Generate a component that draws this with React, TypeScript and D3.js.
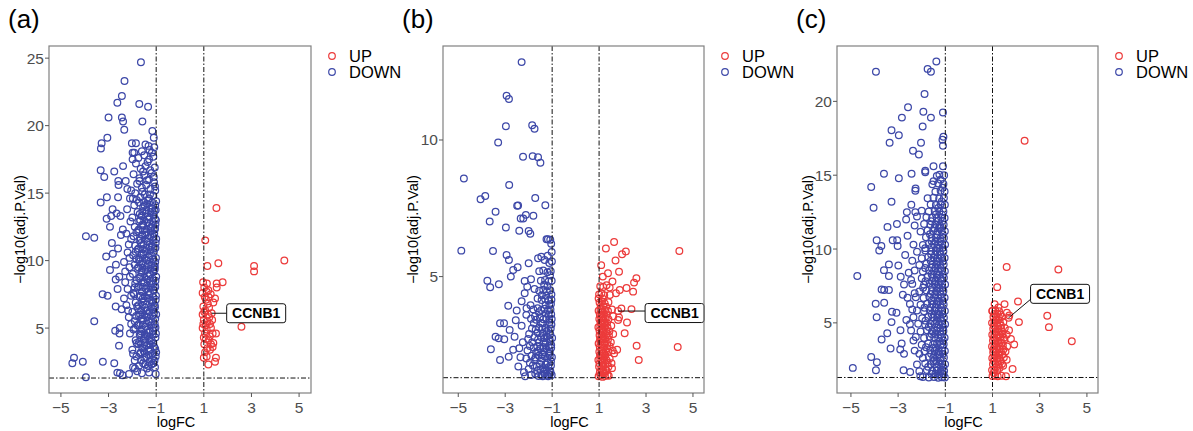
import * as d3 from "d3";

// logFC / -log10(adj.P.Val) pairs
const downA: [number, number][] = [
  [-1.64,24.7],[-2.33,23.3],[-2.44,22.2],[-2.63,21.7],[-1.71,21.6],[-1.34,21.4],[-3.0,20.6],[-2.44,20.6],
  [-2.39,20.3],[-1.58,20.3],[-2.34,19.7],[-1.16,19.6],[-1.1,19.1],[-3.05,19.1],[-3.29,18.7],[-3.32,18.3],[-2.02,18.7],
  [-1.85,18.7],[-1.99,18.0],[-1.92,18.0],[-1.32,18.5],[-2.39,17.0],[-3.33,16.7],[-2.76,16.6],[-3.18,16.2],
  [-2.59,15.9],[-2.58,15.6],[-2.21,15.3],[-2.6,14.7],[-3.07,14.7],[-3.33,14.3],[-2.83,13.8],[-2.66,13.5],
  [-3.08,13.1],[-2.89,13.3],[-2.94,12.5],[-3.95,11.8],[-3.6,11.7],[-2.86,11.3],[-3.1,10.3],[-2.82,10.5],
  [-2.69,9.7],[-2.94,9.3],[-3.25,7.5],[-3.04,7.4],[-3.6,5.5],[-2.53,5.0],[-2.54,4.6],[-2.56,3.7],
  [-4.45,2.8],[-4.52,2.4],[-4.08,2.5],[-3.24,2.5],[-2.76,2.4],[-3.95,1.35],[-2.63,1.7],[-2.41,1.5],
  [-2.14,1.6],[-2.52,1.65],[-1.89,2.0],[-2.7,8.6],[-2.55,8.8],[-2.48,11.9],[-2.5,13.3],[-2.4,12.3],
  [-2.7,6.6],[-2.62,7.9],[-2.45,6.4],[-2.35,9.9],[-2.6,10.9],[-2.72,4.8],
  [-1.05,2.1],[-1.2,2.3],[-1.38,2.0],[-1.55,2.4],[-1.72,2.2],[-1.9,2.6],
  [-1.02,2.9],[-1.18,2.7],[-1.33,3.0],[-1.5,2.8],[-1.66,3.1],[-1.83,2.9],
  [-1.08,3.6],[-1.25,3.4],[-1.41,3.7],[-1.58,3.5],[-1.75,3.8],[-2.0,3.4],
  [-1.03,4.3],[-1.19,4.1],[-1.36,4.4],[-1.52,4.2],[-1.69,4.5],[-1.86,4.1],[-2.1,4.6],
  [-1.1,5.0],[-1.27,4.8],[-1.44,5.1],[-1.61,4.9],[-1.78,5.2],[-1.95,4.9],
  [-1.04,5.7],[-1.21,5.5],[-1.38,5.8],[-1.55,5.6],[-1.72,5.9],[-1.9,5.5],[-2.15,5.8],
  [-1.12,6.4],[-1.29,6.2],[-1.46,6.5],[-1.63,6.3],[-1.8,6.6],[-2.0,6.2],[-2.25,6.7],
  [-1.02,7.1],[-1.18,6.9],[-1.35,7.2],[-1.52,7.0],[-1.69,7.3],[-1.86,6.9],[-2.05,7.4],
  [-1.09,7.8],[-1.26,7.6],[-1.43,7.9],[-1.6,7.7],[-1.77,8.0],[-1.96,7.6],[-2.2,7.9],
  [-1.03,8.5],[-1.2,8.3],[-1.37,8.6],[-1.54,8.4],[-1.71,8.7],[-1.88,8.3],[-2.1,8.8],
  [-1.11,9.2],[-1.28,9.0],[-1.45,9.3],[-1.62,9.1],[-1.79,9.4],[-1.98,9.0],[-2.3,9.2],
  [-1.04,9.9],[-1.21,9.7],[-1.38,10.0],[-1.55,9.8],[-1.72,10.1],[-1.9,9.7],[-2.12,10.2],
  [-1.1,10.6],[-1.27,10.4],[-1.44,10.7],[-1.61,10.5],[-1.78,10.8],[-1.97,10.4],[-2.2,10.6],
  [-1.02,11.3],[-1.19,11.1],[-1.36,11.4],[-1.53,11.2],[-1.7,11.5],[-1.88,11.1],[-2.05,11.6],
  [-1.08,12.0],[-1.25,11.8],[-1.42,12.1],[-1.59,11.9],[-1.76,12.2],[-1.95,11.8],[-2.25,12.0],
  [-1.03,12.7],[-1.2,12.5],[-1.37,12.8],[-1.54,12.6],[-1.71,12.9],[-1.9,12.5],
  [-1.1,13.4],[-1.27,13.2],[-1.44,13.5],[-1.61,13.3],[-1.78,13.6],[-2.0,13.2],
  [-1.04,14.1],[-1.21,13.9],[-1.38,14.2],[-1.55,14.0],[-1.72,14.3],[-1.92,14.1],
  [-1.12,14.8],[-1.3,14.6],[-1.48,14.9],[-1.66,14.7],[-1.88,15.0],[-2.1,14.6],
  [-1.05,15.5],[-1.24,15.3],[-1.42,15.6],[-1.6,15.4],[-1.8,15.7],[-2.05,15.2],
  [-1.1,16.2],[-1.3,16.0],[-1.5,16.3],[-1.7,16.1],[-1.95,16.4],
  [-1.06,16.9],[-1.25,16.7],[-1.45,17.0],[-1.65,16.8],[-1.85,17.2],
  [-1.12,17.7],[-1.3,17.5],[-1.5,17.8],[-1.75,17.6],
  [-1.08,18.4],[-1.28,18.2],[-1.45,18.6],[-1.6,18.1],
  [-1.12,2.4],[-1.28,2.5],[-1.46,2.3],[-1.63,2.6],[-1.02,1.6],[-1.3,1.7],[-1.6,1.65],
  [-1.0,3.2],[-1.16,3.1],[-1.32,3.3],[-1.48,3.15],[-1.65,3.2],
  [-1.12,3.9],[-1.29,3.8],[-1.47,3.95],[-1.64,3.85],[-1.82,3.9],
  [-1.01,4.6],[-1.15,4.5],[-1.31,4.65],[-1.48,4.55],[-1.65,4.6],
  [-1.06,5.3],[-1.22,5.2],[-1.39,5.35],[-1.56,5.25],[-1.73,5.3],
  [-1.0,6.0],[-1.16,5.9],[-1.33,6.05],[-1.5,5.95],[-1.67,6.0],[-1.84,5.9],
  [-1.06,6.7],[-1.22,6.6],[-1.39,6.75],[-1.57,6.65],[-1.74,6.7],
  [-1.01,7.4],[-1.14,7.3],[-1.31,7.45],[-1.48,7.35],[-1.65,7.4],
  [-1.05,8.1],[-1.22,8.0],[-1.39,8.15],[-1.56,8.05],[-1.73,8.1],[-1.9,8.0],
  [-1.0,8.8],[-1.16,8.7],[-1.33,8.85],[-1.5,8.75],[-1.67,8.8],
  [-1.07,9.5],[-1.24,9.4],[-1.41,9.55],[-1.58,9.45],[-1.75,9.5],
  [-1.01,10.2],[-1.15,10.1],[-1.32,10.25],[-1.49,10.15],[-1.66,10.2],[-1.83,10.1],
  [-1.06,10.9],[-1.23,10.8],[-1.4,10.95],[-1.57,10.85],[-1.74,10.9],
  [-1.0,11.6],[-1.14,11.5],[-1.31,11.65],[-1.48,11.55],[-1.65,11.6],
  [-1.06,12.3],[-1.22,12.2],[-1.39,12.35],[-1.56,12.25],[-1.73,12.3],
  [-1.01,13.0],[-1.16,12.9],[-1.33,13.05],[-1.5,12.95],[-1.67,13.0],
  [-1.07,13.7],[-1.24,13.6],[-1.41,13.75],[-1.58,13.65],
  [-1.0,14.4],[-1.17,14.3],[-1.34,14.45],[-1.51,14.35],
];
const downAFill: [number, number][] = [
  [-1.07,2.6],[-1.34,2.2],[-1.52,3.3],[-1.23,3.75],[-1.71,4.0],[-1.14,4.8],[-1.47,4.35],[-1.88,5.0],
  [-1.31,5.45],[-1.63,5.7],[-1.09,6.15],[-1.41,6.3],[-1.76,6.45],[-1.2,7.05],[-1.56,7.2],[-1.93,7.5],
  [-1.33,7.7],[-1.13,8.25],[-1.49,8.35],[-1.82,8.55],[-1.25,8.95],[-1.6,9.25],[-1.06,9.6],[-1.35,9.65],
  [-1.69,9.95],[-1.17,10.35],[-1.53,10.45],[-1.86,10.65],[-1.29,11.0],[-1.64,11.3],[-1.11,11.75],[-1.46,11.9],
  [-1.83,12.1],[-1.23,12.4],[-1.58,12.65],[-1.05,13.1],[-1.35,13.25],[-1.69,13.45],[-1.16,13.85],[-1.49,14.1],
  [-1.82,14.5],[-1.26,14.9],[-1.58,15.1],[-1.09,15.8],[-1.38,15.95],[-1.7,15.9],[-1.19,16.5],[-1.55,16.6],
  [-1.36,17.3],[-1.18,18.0],[-1.04,3.45],[-1.03,5.05],[-1.05,6.55],[-1.04,8.05],[-1.06,9.35],[-1.03,10.95],
  [-1.05,12.4],[-1.02,13.75],[-1.04,15.2],[-1.28,4.05],[-1.62,4.75],[-1.42,2.85],[-1.97,3.1],[-2.05,5.3],
  [-2.18,6.3],[-2.12,9.5],[-2.15,11.2],[-2.08,12.9],[-2.22,13.8],[-1.98,14.6],[-2.28,15.9],[-1.99,17.5],
  [-2.3,8.4],[-2.35,7.2],[-1.97,2.1],[-1.8,1.8],
];
const upA: [number, number][] = [
  [1.53,13.9],[1.06,11.5],[1.15,9.6],[1.61,9.8],[3.11,9.6],[3.11,9.2],[4.38,10.0],[1.79,8.4],[1.54,8.3],
  [2.58,5.1],[0.97,8.4],[1.13,8.3],[1.02,8.0],[1.19,7.8],[0.95,7.6],[1.29,7.5],[1.47,7.2],[1.09,7.1],
  [1.4,6.9],[0.98,6.6],[1.22,6.5],[0.95,6.0],[1.33,6.1],[1.0,5.6],[1.15,5.5],[1.26,5.3],[0.95,5.0],
  [1.12,4.9],[1.51,4.6],[1.37,4.6],[1.0,4.3],[1.4,3.9],[1.37,3.6],[1.15,3.5],[1.0,2.8],[1.51,2.8],
  [1.47,2.5],[1.19,2.3],[1.26,3.4],[1.09,4.2],[1.23,5.8],[1.06,6.3],[1.54,8.0],[1.08,5.2],[1.2,7.3],
  [1.3,5.0],[1.05,3.2],[1.25,4.4],[1.12,7.7],[0.98,5.3],[1.04,7.3],[1.17,6.8],[1.02,6.2],[1.18,6.0],
  [1.05,4.6],[1.2,4.1],[1.3,3.8],[1.02,3.8],[1.12,2.9],[1.35,5.6],
];

const downB: [number, number][] = [
  [-2.3,12.85],[-2.94,11.62],[-2.84,11.5],[-2.97,10.5],[-1.85,10.54],[-1.75,10.41],[-3.3,9.91],[-2.24,9.39],
  [-1.83,9.41],[-1.6,9.37],[-1.5,9.17],[-4.76,8.59],[-2.83,8.35],[-4.05,7.83],[-3.85,7.95],[-1.72,7.88],
  [-1.29,7.61],[-2.49,7.59],[-2.45,7.6],[-3.41,7.37],[-2.12,7.26],[-2.34,7.13],[-2.23,7.13],[-1.8,7.23],
  [-3.66,7.02],[-2.97,6.8],[-2.4,6.68],[-2.0,6.67],[-1.93,6.57],[-1.24,6.37],[-1.18,6.37],[-4.87,5.95],
  [-3.52,5.94],[-2.94,5.79],[-2.84,5.61],[-2.47,5.34],[-2.66,5.24],[-2.76,5.0],[-3.76,4.85],[-3.64,4.61],
  [-3.27,4.72],[-2.0,5.49],[-1.6,5.67],[-1.46,5.73],[-1.32,5.61],[-1.19,5.76],[-2.17,4.84],[-2.06,4.63],
  [-2.17,4.39],[-2.87,3.93],[-2.51,3.76],[-2.09,3.84],[-3.22,3.29],[-3.05,3.29],[-3.28,2.74],[-3.41,2.8],
  [-3.04,2.71],[-3.61,2.34],[-2.81,3.05],[-3.22,1.95],[-2.85,2.07],[-2.66,2.32],[-2.4,2.38],[-2.44,1.71],
  [-2.3,3.2],[-2.6,2.8],[-2.25,2.6],[-2.2,1.5],[-2.55,3.4],[-1.9,4.9],[-1.55,5.2],[-2.3,4.1],
  [-1.02,1.4],[-1.12,1.42],[-1.22,1.38],[-1.33,1.45],[-1.45,1.4],[-1.58,1.36],[-1.72,1.44],[-1.9,1.4],
  [-1.05,1.75],[-1.16,1.68],[-1.27,1.78],[-1.39,1.65],[-1.52,1.8],[-1.66,1.7],[-1.82,1.75],[-2.0,1.62],
  [-1.01,2.05],[-1.1,2.1],[-1.21,2.02],[-1.32,2.08],[-1.44,2.0],[-1.57,2.1],[-1.71,2.04],[-1.88,2.1],[-2.1,2.0],
  [-1.04,2.4],[-1.15,2.45],[-1.26,2.38],[-1.38,2.42],[-1.5,2.36],[-1.63,2.44],[-1.78,2.4],[-1.95,2.46],
  [-1.0,2.75],[-1.11,2.72],[-1.22,2.8],[-1.34,2.74],[-1.47,2.78],[-1.6,2.7],[-1.75,2.78],[-2.02,2.72],
  [-1.06,3.1],[-1.17,3.05],[-1.29,3.12],[-1.41,3.08],[-1.55,3.14],[-1.7,3.06],[-1.86,3.1],
  [-1.02,3.45],[-1.13,3.42],[-1.25,3.48],[-1.37,3.44],[-1.52,3.5],[-1.68,3.42],[-1.9,3.46],
  [-1.07,3.8],[-1.19,3.76],[-1.32,3.82],[-1.46,3.78],[-1.62,3.84],[-1.8,3.8],
  [-1.03,4.15],[-1.16,4.12],[-1.3,4.18],[-1.45,4.14],[-1.62,4.2],
  [-1.08,4.5],[-1.22,4.46],[-1.38,4.52],[-1.55,4.48],[-1.75,4.55],
  [-1.02,4.85],[-1.15,4.82],[-1.3,4.88],[-1.48,4.85],
  [-1.06,5.2],[-1.2,5.16],[-1.38,5.22],[-1.01,5.55],[-1.12,5.5],[-1.02,5.9],[-1.04,6.2],[-1.08,6.35],
  [-1.08,1.55],[-1.3,1.58],[-1.5,1.6],[-1.1,2.25],[-1.35,2.25],[-1.6,2.28],[-1.08,2.9],[-1.4,2.92],
  [-1.15,3.6],[-1.05,4.0],[-1.25,4.3],
];
const downBFill: [number, number][] = [
  [-1.07,1.48],[-1.19,1.85],[-1.36,1.52],[-1.47,1.92],[-1.63,1.55],[-1.76,1.95],[-1.14,2.18],[-1.29,2.55],
  [-1.42,2.15],[-1.55,2.6],[-1.68,2.22],[-1.85,2.6],[-1.09,2.62],[-1.24,3.0],[-1.36,2.62],[-1.48,3.3],
  [-1.62,2.95],[-1.78,3.3],[-1.11,3.32],[-1.27,3.65],[-1.41,3.28],[-1.57,3.7],[-1.73,3.55],[-1.12,3.95],
  [-1.28,3.95],[-1.44,4.32],[-1.2,4.65],[-1.34,4.7],[-1.09,5.05],[-1.05,1.9],[-1.04,2.5],[-1.03,3.25],
  [-1.04,3.62],[-1.03,4.35],[-1.95,1.85],[-2.05,2.3],[-1.98,2.9],[-2.1,3.6],[-1.92,3.95],[-2.35,2.05],
  [-2.15,1.35],[-1.17,1.35],[-1.4,1.35],
];
const upB: [number, number][] = [
  [1.64,6.27],[1.29,6.03],[2.14,5.92],[1.98,5.82],[4.42,5.94],[1.7,5.59],[1.09,5.42],[1.38,5.12],
  [1.85,5.18],[1.16,5.0],[2.59,4.94],[2.49,4.78],[1.57,4.82],[2.17,4.58],[2.45,4.45],[1.88,4.51],
  [1.72,4.39],[1.46,4.33],[2.38,3.81],[1.95,3.83],[1.81,3.41],[1.85,3.5],[2.19,3.32],[2.09,2.93],
  [2.6,2.47],[4.35,2.42],[2.69,1.95],[1.64,2.19],[1.77,2.32],[1.53,1.83],[1.41,1.37],[1.81,3.74],
  [0.98,1.35],[1.06,1.38],[1.15,1.33],[1.25,1.36],[1.36,1.4],
  [1.0,1.7],[1.09,1.62],[1.18,1.72],[1.28,1.6],[1.4,1.7],[1.55,1.65],
  [0.97,1.95],[1.05,1.98],[1.13,1.92],[1.22,1.96],[1.32,1.94],[1.45,2.0],
  [1.01,2.25],[1.1,2.28],[1.19,2.22],[1.29,2.26],[1.4,2.24],[1.58,2.3],
  [0.98,2.55],[1.06,2.58],[1.15,2.52],[1.24,2.56],[1.35,2.54],[1.5,2.6],
  [1.02,2.85],[1.1,2.88],[1.2,2.82],[1.3,2.86],[1.42,2.84],[1.6,2.9],
  [0.97,3.15],[1.05,3.18],[1.14,3.12],[1.24,3.16],[1.36,3.14],[1.52,3.2],
  [1.01,3.45],[1.09,3.48],[1.18,3.42],[1.28,3.46],[1.4,3.44],
  [0.98,3.75],[1.06,3.78],[1.15,3.72],[1.25,3.76],[1.38,3.74],[1.55,3.8],
  [1.02,4.05],[1.12,4.08],[1.24,4.02],[1.4,4.06],
  [1.0,4.35],[1.1,4.38],[1.22,4.32],[1.05,4.65],[1.18,4.62],[1.32,4.68],
  [1.04,1.5],[1.2,1.5],[1.08,2.1],[1.25,2.1],[1.04,2.7],[1.2,2.7],[1.08,3.3],[1.22,3.3],[1.04,3.6],
];
const upBFill: [number, number][] = [
  [1.03,1.48],[1.12,1.55],[1.22,1.45],[1.32,1.55],[1.02,1.82],[1.15,1.85],[1.26,1.8],[1.36,1.85],
  [1.04,2.12],[1.16,2.1],[1.27,2.12],[1.34,2.38],[1.03,2.42],[1.12,2.4],[1.22,2.4],[1.45,2.45],
  [1.08,2.72],[1.16,2.7],[1.27,2.72],[1.38,2.7],[1.02,3.02],[1.12,3.0],[1.2,3.02],[1.3,3.0],
  [1.44,3.0],[1.06,3.32],[1.14,3.3],[1.24,3.32],[1.34,3.3],[1.03,3.62],[1.12,3.6],[1.2,3.62],
  [1.32,3.6],[1.07,3.92],[1.18,3.92],[1.3,3.9],[0.98,4.2],[1.15,4.2],[1.45,4.6],[1.6,3.55],
];

const downC: [number, number][] = [
  [-1.38,22.7],[-3.94,22.0],[-1.75,22.2],[-1.61,22.0],[-1.88,20.5],[-2.58,19.6],[-1.93,19.3],[-2.84,18.9],
  [-1.61,18.9],[-1.1,19.25],[-1.96,18.3],[-3.28,18.05],[-2.97,17.7],[-3.36,17.2],[-2.03,17.2],[-2.37,16.65],
  [-2.12,16.4],[-1.08,17.6],[-1.12,17.4],[-1.1,17.0],[-3.6,15.1],[-2.97,14.8],[-2.43,15.1],[-1.85,15.3],
  [-1.85,15.2],[-1.5,15.6],[-1.36,14.95],[-1.5,14.6],[-4.14,14.2],[-2.26,14.1],[-2.27,13.95],[-4.04,12.8],
  [-3.28,13.2],[-2.44,13.0],[-2.63,12.5],[-2.27,12.5],[-3.45,11.5],[-3.05,11.7],[-2.66,12.0],[-3.91,10.6],
  [-3.71,10.2],[-3.8,9.9],[-3.23,10.6],[-3.04,10.6],[-3.02,10.2],[-4.73,8.17],[-3.6,8.57],[-3.39,8.17],
  [-3.39,8.96],[-2.99,8.89],[-2.89,8.12],[-3.95,6.29],[-3.59,6.36],[-3.91,5.38],[-3.7,7.26],[-3.59,7.22],
  [-3.39,7.22],[-3.26,5.75],[-3.07,5.68],[-3.28,5.05],[-3.46,4.3],[-3.7,3.87],[-3.32,3.26],[-2.91,3.19],
  [-2.75,2.9],[-4.14,2.69],[-3.9,2.33],[-3.94,1.79],[-4.92,1.95],[-2.77,1.79],[-2.49,1.67],[-2.06,1.38],
  [-2.8,6.9],[-2.7,9.6],[-2.6,10.9],[-2.9,4.5],[-2.65,5.2],[-2.75,7.6],[-2.55,8.4],[-2.85,3.6],
  [-1.02,1.3],[-1.15,1.32],[-1.3,1.28],[-1.48,1.34],[-1.7,1.3],[-1.95,1.33],
  [-1.05,1.75],[-1.2,1.72],[-1.36,1.78],[-1.55,1.74],[-1.78,1.8],[-2.1,1.72],
  [-1.01,2.2],[-1.13,2.24],[-1.27,2.18],[-1.43,2.22],[-1.62,2.2],[-1.85,2.25],[-2.2,2.18],
  [-1.06,2.65],[-1.19,2.62],[-1.34,2.68],[-1.51,2.64],[-1.7,2.7],[-1.95,2.62],
  [-1.02,3.1],[-1.14,3.12],[-1.28,3.06],[-1.45,3.1],[-1.64,3.14],[-1.88,3.08],[-2.3,3.12],
  [-1.07,3.55],[-1.2,3.52],[-1.35,3.58],[-1.52,3.54],[-1.72,3.6],[-2.0,3.52],
  [-1.03,4.0],[-1.15,4.04],[-1.3,3.98],[-1.47,4.02],[-1.66,4.06],[-1.9,3.98],[-2.25,4.04],
  [-1.08,4.45],[-1.22,4.42],[-1.38,4.48],[-1.56,4.44],[-1.78,4.5],[-2.05,4.42],[-2.45,4.48],
  [-1.01,4.9],[-1.13,4.94],[-1.27,4.88],[-1.44,4.92],[-1.63,4.96],[-1.85,4.88],[-2.15,4.94],
  [-1.06,5.35],[-1.19,5.32],[-1.34,5.38],[-1.52,5.34],[-1.72,5.4],[-1.98,5.32],[-2.35,5.38],
  [-1.02,5.8],[-1.14,5.84],[-1.29,5.78],[-1.46,5.82],[-1.66,5.86],[-1.9,5.78],[-2.2,5.84],
  [-1.07,6.25],[-1.21,6.22],[-1.37,6.28],[-1.55,6.24],[-1.76,6.3],[-2.05,6.22],[-2.5,6.28],
  [-1.03,6.7],[-1.16,6.74],[-1.31,6.68],[-1.48,6.72],[-1.68,6.76],[-1.92,6.68],[-2.25,6.74],
  [-1.08,7.15],[-1.22,7.12],[-1.38,7.18],[-1.57,7.14],[-1.8,7.2],[-2.1,7.12],
  [-1.01,7.6],[-1.14,7.64],[-1.29,7.58],[-1.46,7.62],[-1.66,7.66],[-1.9,7.58],[-2.4,7.64],
  [-1.06,8.05],[-1.2,8.02],[-1.36,8.08],[-1.54,8.04],[-1.75,8.1],[-2.0,8.02],
  [-1.02,8.5],[-1.15,8.54],[-1.3,8.48],[-1.48,8.52],[-1.68,8.56],[-1.95,8.48],[-2.3,8.54],
  [-1.07,8.95],[-1.21,8.92],[-1.37,8.98],[-1.56,8.94],[-1.8,9.0],[-2.1,8.92],
  [-1.03,9.4],[-1.16,9.44],[-1.32,9.38],[-1.5,9.42],[-1.72,9.46],[-2.0,9.38],
  [-1.08,9.85],[-1.23,9.82],[-1.4,9.88],[-1.6,9.84],[-1.85,9.9],[-2.2,9.82],
  [-1.01,10.3],[-1.14,10.34],[-1.3,10.28],[-1.48,10.32],[-1.7,10.36],[-1.95,10.28],
  [-1.06,10.75],[-1.21,10.72],[-1.38,10.78],[-1.58,10.74],[-1.82,10.8],
  [-1.02,11.2],[-1.16,11.24],[-1.33,11.18],[-1.52,11.22],[-1.75,11.26],[-2.05,11.18],
  [-1.07,11.65],[-1.23,11.62],[-1.42,11.68],[-1.63,11.64],[-1.9,11.7],
  [-1.03,12.1],[-1.18,12.14],[-1.36,12.08],[-1.56,12.12],[-1.8,12.16],
  [-1.08,12.55],[-1.25,12.52],[-1.45,12.58],[-1.7,12.54],[-2.0,12.6],
  [-1.02,13.0],[-1.2,13.04],[-1.4,12.98],[-1.62,13.02],
  [-1.06,13.45],[-1.26,13.42],[-1.5,13.48],[-1.75,13.44],
  [-1.03,13.9],[-1.2,13.94],[-1.42,13.88],[-1.08,14.4],[-1.3,14.44],[-1.55,14.38],
  [-1.05,15.0],[-1.25,15.04],[-1.1,15.6],
  [-1.1,1.55],[-1.25,1.5],[-1.42,1.55],[-1.09,2.0],[-1.21,2.45],[-1.38,2.42],[-1.1,2.9],[-1.24,2.88],
  [-1.4,3.34],[-1.1,3.8],[-1.24,3.78],[-1.42,4.25],[-1.09,4.68],[-1.22,4.66],[-1.36,5.12],[-1.12,5.58],
  [-1.25,5.56],[-1.41,6.02],[-1.1,6.48],[-1.26,6.46],[-1.43,6.92],[-1.12,7.38],[-1.25,7.36],[-1.42,7.84],
  [-1.1,8.28],[-1.25,8.26],[-1.42,8.72],[-1.11,9.18],[-1.26,9.16],[-1.43,9.62],[-1.1,10.08],[-1.25,10.06],
  [-1.42,10.52],[-1.11,10.98],[-1.27,11.44],[-1.12,11.9],
];
const downCFill: [number, number][] = [
  [-1.08,1.52],[-1.36,1.98],[-1.58,1.55],[-1.18,2.02],[-1.5,2.42],[-1.73,2.02],[-1.28,2.85],[-1.6,2.9],
  [-1.12,3.32],[-1.52,3.3],[-1.82,3.35],[-1.2,4.22],[-1.58,4.25],[-1.32,4.68],[-1.7,4.72],[-1.18,5.12],
  [-1.52,5.12],[-1.84,5.15],[-1.34,5.6],[-1.58,5.58],[-1.18,6.02],[-1.62,6.05],[-1.88,6.02],[-1.34,6.48],
  [-1.58,6.5],[-1.2,6.92],[-1.62,6.95],[-1.35,7.38],[-1.56,7.4],[-1.94,7.38],[-1.18,7.85],[-1.56,7.84],
  [-1.84,7.82],[-1.36,8.28],[-1.58,8.3],[-1.2,8.72],[-1.58,8.74],[-1.85,8.72],[-1.36,9.18],[-1.62,9.2],
  [-1.2,9.62],[-1.6,9.64],[-1.35,10.08],[-1.58,10.1],[-1.85,10.06],[-1.2,10.52],[-1.58,10.54],[-1.35,10.98],
  [-1.65,11.0],[-1.2,11.44],[-1.46,11.42],[-1.3,11.9],[-1.6,11.88],[-1.14,12.32],[-1.4,12.34],[-1.3,12.78],
  [-1.15,13.22],[-1.12,14.15],[-1.2,14.7],[-2.1,2.9],[-2.35,3.8],[-2.5,4.9],[-2.4,5.9],[-2.3,7.0],
  [-2.45,7.9],[-2.4,9.2],[-2.35,10.3],[-2.3,11.6],[-2.2,12.2],[-2.6,6.7],
];
const upC: [number, number][] = [
  [2.36,17.33],[1.6,8.78],[3.79,8.62],[1.2,7.42],[1.09,6.27],[1.51,6.27],[2.08,6.45],[3.32,5.48],
  [3.39,4.71],[2.12,5.05],[4.36,3.76],[1.85,1.88],[1.57,1.38],[0.99,5.8],[1.33,5.57],[1.61,5.68],
  [1.71,5.5],[1.78,3.91],[1.92,3.53],[1.68,5.34],
  [1.0,1.4],[1.1,1.44],[1.22,1.38],[1.38,1.42],[0.98,1.8],[1.08,1.84],[1.2,1.78],
  [1.02,2.2],[1.12,2.24],[1.25,2.18],[1.4,2.22],
  [0.99,2.6],[1.08,2.64],[1.18,2.58],[1.3,2.62],[1.48,2.66],
  [1.03,3.0],[1.13,3.04],[1.24,2.98],[1.36,3.02],[1.55,3.06],
  [0.98,3.4],[1.08,3.44],[1.19,3.38],[1.3,3.42],[1.44,3.46],[1.62,3.4],
  [1.02,3.8],[1.12,3.84],[1.23,3.78],[1.35,3.82],[1.5,3.86],
  [0.99,4.2],[1.08,4.24],[1.18,4.18],[1.29,4.22],[1.42,4.26],[1.6,4.2],
  [1.03,4.6],[1.13,4.64],[1.24,4.58],[1.36,4.62],[1.52,4.66],
  [0.98,5.0],[1.08,5.04],[1.19,4.98],[1.31,5.02],[1.46,5.06],
  [1.04,5.4],[1.15,5.44],[1.27,5.38],[1.4,5.42],[1.0,5.8],[1.12,5.84],[1.28,5.78],
];
const upCFill: [number, number][] = [
  [1.05,1.6],[1.15,2.0],[1.3,1.95],[1.06,2.42],[1.2,2.4],[1.35,2.4],[1.12,2.8],[1.26,2.8],
  [1.42,2.85],[1.04,3.2],[1.18,3.2],[1.3,3.22],[1.46,3.2],[1.12,3.6],[1.26,3.6],[1.4,3.62],
  [1.06,4.0],[1.18,4.0],[1.32,4.02],[1.48,4.0],[1.12,4.4],[1.24,4.4],[1.4,4.42],[1.06,4.8],
  [1.2,4.8],[1.36,4.82],[1.12,5.2],[1.26,5.2],[1.08,5.6],[1.2,5.62],[1.25,6.05],[1.45,2.1],
  [1.6,2.5],[1.7,4.5],
];

// gene labels (logFC, -log10 P)
const labelA: [number, number] = [1.33, 6.1];
const labelB: [number, number] = [1.81, 3.74];
const labelC: [number, number] = [1.68, 5.34];

const xTicks = [-5, -3, -1, 1, 3, 5];
const yTicksA = [5, 10, 15, 20, 25];
const yTicksB = [5, 10];
const yTicksC = [5, 10, 15, 20];
const fcCut = 1;
const pCut = 1.3;

const panels = [
  { tag: "(a)", up: [...upA], down: [...downA, ...downAFill], label: labelA, yTicks: yTicksA, xd: [-5.5, 5.5], yd: [0.19, 25.9],
    left: 49, right: 311, top: 46, bottom: 393, titleX: 20, lab: { dx: 15, dy: 0 } },
  { tag: "(b)", up: [...upB, ...upBFill], down: [...downB, ...downBFill], label: labelB, yTicks: yTicksB, xd: [-5.65, 5.47], yd: [0.74, 13.44],
    left: 443, right: 704, top: 46, bottom: 393, titleX: 413, lab: { dx: 27, dy: 2 } },
  { tag: "(c)", up: [...upC, ...upCFill], down: [...downC, ...downCFill], label: labelC, yTicks: yTicksC, xd: [-5.59, 5.47], yd: [0.25, 23.75],
    left: 837, right: 1098, top: 46, bottom: 393, titleX: 808, lab: { dx: 22, dy: -24 } },
];

const BLUE = "#3D48A8";
const RED = "#EC3B3B";
const FONT = "Liberation Sans, Arial, sans-serif";
const fmt = (v: number) => (v < 0 ? "\u2212" + Math.abs(v) : String(v));

function Panel({ p }: { p: (typeof panels)[number] }) {
  const x = d3.scaleLinear().domain(p.xd).range([p.left, p.right]);
  const y = d3.scaleLinear().domain(p.yd).range([p.bottom, p.top]);
  const cx = (p.left + p.right) / 2;
  const cy = (p.top + p.bottom) / 2;
  const dash = "5,2,1.5,2";
  const px = x(p.label[0]);
  const py = y(p.label[1]);
  const bw = 59, bh = 19;
  const bx = px + p.lab.dx;
  const by = py + p.lab.dy - bh / 2;
  const ly = Math.max(by + 4, Math.min(by + bh - 4, py));
  const legX = p.right + 21;
  return (
    <g>
      <text x={p.left - 41} y={28} fontSize={26} fontFamily={FONT}>{p.tag}</text>
      <rect x={p.left} y={p.top} width={p.right - p.left} height={p.bottom - p.top} fill="white" />
      <g fill="none" strokeWidth={1.25}>
        {p.down.map((d, i) => (
          <circle key={"d" + i} cx={x(d[0])} cy={y(d[1])} r={3.35} stroke={BLUE} />
        ))}
        {p.up.map((d, i) => (
          <circle key={"u" + i} cx={x(d[0])} cy={y(d[1])} r={3.35} stroke={RED} />
        ))}
      </g>
      <g stroke="#111" strokeWidth={1} strokeDasharray={dash}>
        <line x1={x(-fcCut)} x2={x(-fcCut)} y1={p.top} y2={p.bottom} />
        <line x1={x(fcCut)} x2={x(fcCut)} y1={p.top} y2={p.bottom} />
        <line x1={p.left} x2={p.right} y1={y(pCut)} y2={y(pCut)} />
      </g>
      <line x1={px} y1={py} x2={bx} y2={ly} stroke="#111" strokeWidth={1} />
      <rect x={bx} y={by} width={bw} height={bh} rx={2.5} fill="white" stroke="#111" strokeWidth={1} />
      <text x={bx + bw / 2} y={by + bh / 2 + 5} textAnchor="middle" fontSize={14} fontWeight="bold" fontFamily={FONT}>CCNB1</text>
      <rect x={p.left} y={p.top} width={p.right - p.left} height={p.bottom - p.top} fill="none" stroke="#808080" strokeWidth={1.2} />
      {xTicks.map((t) => (
        <g key={"x" + t}>
          <line x1={x(t)} x2={x(t)} y1={p.bottom} y2={p.bottom + 4} stroke="#555" />
          <text x={x(t)} y={p.bottom + 20} textAnchor="middle" fontSize={15.5} fill="#4D4D4D" fontFamily={FONT}>{fmt(t)}</text>
        </g>
      ))}
      {p.yTicks.map((t) => (
        <g key={"y" + t}>
          <line x1={p.left - 4} x2={p.left} y1={y(t)} y2={y(t)} stroke="#555" />
          <text x={p.left - 5} y={y(t) + 5.5} textAnchor="end" fontSize={15.5} fill="#4D4D4D" fontFamily={FONT}>{t}</text>
        </g>
      ))}
      <text x={cx - 4} y={427} textAnchor="middle" fontSize={14.5} fontFamily={FONT}>logFC</text>
      <text transform={`translate(${p.titleX + 5},${cy + 10}) rotate(-90)`} textAnchor="middle" fontSize={14.5} fontFamily={FONT}>
        {"\u2212log10(adj.P.Val)"}
      </text>
      <circle cx={legX} cy={56} r={3.3} fill="none" stroke={RED} strokeWidth={1.2} />
      <circle cx={legX} cy={72} r={3.3} fill="none" stroke={BLUE} strokeWidth={1.2} />
      <text x={legX + 17} y={61.5} fontSize={16.5} fontFamily={FONT}>UP</text>
      <text x={legX + 17} y={77.5} fontSize={16.5} fontFamily={FONT}>DOWN</text>
    </g>
  );
}

export default function App() {
  return (
    <svg width={1193} height={431} style={{ position: "absolute", left: 0, top: 0, background: "white" }}>
      {panels.map((p) => (
        <Panel key={p.tag} p={p} />
      ))}
    </svg>
  );
}
